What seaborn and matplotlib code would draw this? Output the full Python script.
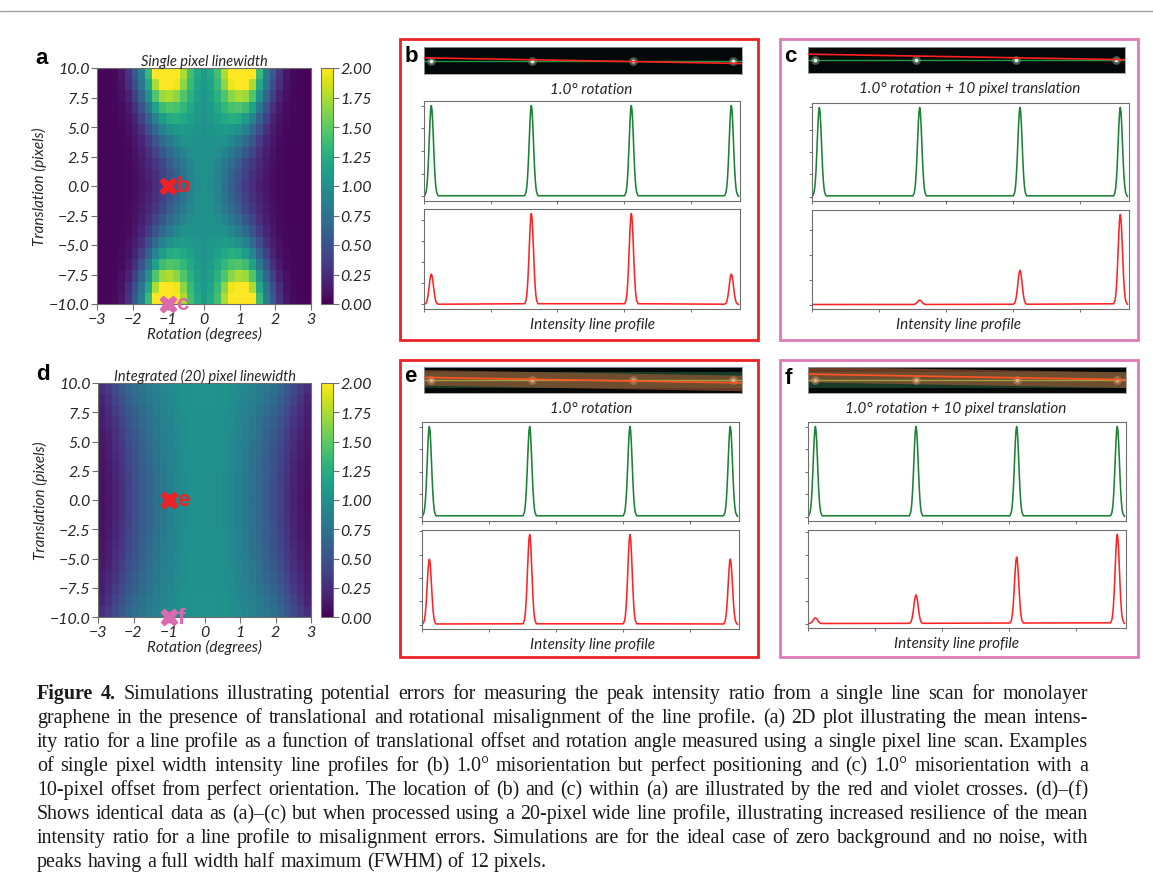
import numpy as np
import pandas as pd
import matplotlib
matplotlib.use("Agg")
import matplotlib.pyplot as plt
from matplotlib.lines import Line2D
from matplotlib.patches import Rectangle
from matplotlib.ticker import MultipleLocator
import seaborn as sns

# ---------------- data ----------------
rotation_deg = [-3.0, -2.8, -2.6, -2.4, -2.2, -2.0, -1.8, -1.6, -1.4, -1.2, -1.0,
                -0.8, -0.6, -0.4, -0.2, 0.0, 0.2, 0.4, 0.6, 0.8, 1.0, 1.2, 1.4,
                1.6, 1.8, 2.0, 2.2, 2.4, 2.6, 2.8, 3.0]
translation_px = [10, 9, 8, 7, 6, 5, 4, 3, 2, 1, 0, -1, -2, -3, -4, -5, -6, -7, -8, -9, -10]

ratio_single = [
    [0.02,0.03,0.05,0.12,0.30,0.55,0.85,1.35,2.00,2.00,2.00,2.00,1.75,1.40,1.20,1.10,1.20,1.40,1.75,2.00,2.00,2.00,2.00,1.35,0.85,0.55,0.30,0.12,0.05,0.03,0.02],
    [0.02,0.03,0.05,0.10,0.25,0.48,0.78,1.20,1.75,2.00,2.00,1.95,1.65,1.35,1.15,1.08,1.15,1.35,1.65,1.95,2.00,2.00,1.75,1.20,0.78,0.48,0.25,0.10,0.05,0.03,0.02],
    [0.02,0.03,0.04,0.08,0.18,0.38,0.65,1.00,1.45,1.70,1.75,1.65,1.45,1.28,1.12,1.05,1.12,1.28,1.45,1.65,1.75,1.70,1.45,1.00,0.65,0.38,0.18,0.08,0.04,0.03,0.02],
    [0.02,0.03,0.04,0.06,0.13,0.28,0.50,0.80,1.15,1.38,1.45,1.42,1.32,1.20,1.10,1.05,1.10,1.20,1.32,1.42,1.45,1.38,1.15,0.80,0.50,0.28,0.13,0.06,0.04,0.03,0.02],
    [0.02,0.02,0.03,0.05,0.10,0.20,0.38,0.62,0.90,1.10,1.22,1.25,1.20,1.13,1.06,1.03,1.06,1.13,1.20,1.25,1.22,1.10,0.90,0.62,0.38,0.20,0.10,0.05,0.03,0.02,0.02],
    [0.02,0.02,0.03,0.04,0.08,0.15,0.28,0.47,0.68,0.88,1.00,1.07,1.10,1.08,1.04,1.02,1.04,1.08,1.10,1.07,1.00,0.88,0.68,0.47,0.28,0.15,0.08,0.04,0.03,0.02,0.02],
    [0.02,0.02,0.03,0.04,0.06,0.12,0.21,0.35,0.52,0.68,0.82,0.93,1.00,1.03,1.02,1.01,1.02,1.03,1.00,0.93,0.82,0.68,0.52,0.35,0.21,0.12,0.06,0.04,0.03,0.02,0.02],
    [0.02,0.02,0.03,0.03,0.05,0.10,0.17,0.27,0.40,0.54,0.68,0.80,0.90,0.97,1.00,1.00,1.00,0.97,0.90,0.80,0.68,0.54,0.40,0.27,0.17,0.10,0.05,0.03,0.03,0.02,0.02],
    [0.02,0.02,0.02,0.03,0.05,0.08,0.14,0.22,0.32,0.44,0.57,0.70,0.82,0.92,0.98,1.00,0.98,0.92,0.82,0.70,0.57,0.44,0.32,0.22,0.14,0.08,0.05,0.03,0.02,0.02,0.02],
    [0.02,0.02,0.02,0.03,0.04,0.07,0.12,0.19,0.27,0.38,0.50,0.63,0.77,0.89,0.97,1.00,0.97,0.89,0.77,0.63,0.50,0.38,0.27,0.19,0.12,0.07,0.04,0.03,0.02,0.02,0.02],
    [0.02,0.02,0.02,0.03,0.04,0.07,0.11,0.17,0.25,0.35,0.47,0.60,0.75,0.88,0.96,1.00,0.96,0.88,0.75,0.60,0.47,0.35,0.25,0.17,0.11,0.07,0.04,0.03,0.02,0.02,0.02],
    [0.02,0.02,0.02,0.03,0.04,0.07,0.12,0.19,0.27,0.38,0.50,0.63,0.77,0.89,0.97,1.00,0.97,0.89,0.77,0.63,0.50,0.38,0.27,0.19,0.12,0.07,0.04,0.03,0.02,0.02,0.02],
    [0.02,0.02,0.02,0.03,0.05,0.08,0.14,0.22,0.32,0.44,0.57,0.70,0.82,0.92,0.98,1.00,0.98,0.92,0.82,0.70,0.57,0.44,0.32,0.22,0.14,0.08,0.05,0.03,0.02,0.02,0.02],
    [0.02,0.02,0.03,0.03,0.05,0.10,0.17,0.27,0.40,0.54,0.68,0.80,0.90,0.97,1.00,1.00,1.00,0.97,0.90,0.80,0.68,0.54,0.40,0.27,0.17,0.10,0.05,0.03,0.03,0.02,0.02],
    [0.02,0.02,0.03,0.04,0.06,0.12,0.21,0.35,0.52,0.68,0.82,0.93,1.00,1.03,1.02,1.01,1.02,1.03,1.00,0.93,0.82,0.68,0.52,0.35,0.21,0.12,0.06,0.04,0.03,0.02,0.02],
    [0.02,0.02,0.03,0.04,0.08,0.15,0.28,0.47,0.68,0.88,1.00,1.07,1.10,1.08,1.04,1.02,1.04,1.08,1.10,1.07,1.00,0.88,0.68,0.47,0.28,0.15,0.08,0.04,0.03,0.02,0.02],
    [0.02,0.02,0.03,0.05,0.10,0.20,0.38,0.62,0.90,1.10,1.22,1.25,1.20,1.13,1.06,1.03,1.06,1.13,1.20,1.25,1.22,1.10,0.90,0.62,0.38,0.20,0.10,0.05,0.03,0.02,0.02],
    [0.02,0.03,0.04,0.06,0.13,0.28,0.50,0.80,1.15,1.38,1.45,1.42,1.32,1.20,1.10,1.05,1.10,1.20,1.32,1.42,1.45,1.38,1.15,0.80,0.50,0.28,0.13,0.06,0.04,0.03,0.02],
    [0.02,0.03,0.04,0.08,0.18,0.38,0.65,1.00,1.45,1.70,1.75,1.65,1.45,1.28,1.12,1.05,1.12,1.28,1.45,1.65,1.75,1.70,1.45,1.00,0.65,0.38,0.18,0.08,0.04,0.03,0.02],
    [0.02,0.03,0.05,0.10,0.25,0.48,0.78,1.20,1.75,2.00,2.00,1.95,1.65,1.35,1.15,1.08,1.15,1.35,1.65,1.95,2.00,2.00,1.75,1.20,0.78,0.48,0.25,0.10,0.05,0.03,0.02],
    [0.02,0.03,0.05,0.12,0.30,0.55,0.85,1.35,2.00,2.00,2.00,2.00,1.75,1.40,1.20,1.10,1.20,1.40,1.75,2.00,2.00,2.00,2.00,1.35,0.85,0.55,0.30,0.12,0.05,0.03,0.02],
]

ratio_integrated = [
    [0.25,0.35,0.45,0.55,0.65,0.72,0.78,0.83,0.88,0.92,0.95,0.98,1.00,1.02,1.03,1.03,1.03,1.02,1.00,0.98,0.95,0.92,0.88,0.83,0.78,0.72,0.65,0.55,0.45,0.35,0.25],
    [0.20,0.30,0.40,0.50,0.60,0.68,0.75,0.80,0.85,0.90,0.94,0.97,1.00,1.02,1.03,1.03,1.03,1.02,1.00,0.97,0.94,0.90,0.85,0.80,0.75,0.68,0.60,0.50,0.40,0.30,0.20],
    [0.17,0.25,0.35,0.45,0.55,0.63,0.70,0.77,0.83,0.88,0.92,0.96,0.99,1.01,1.02,1.02,1.02,1.01,0.99,0.96,0.92,0.88,0.83,0.77,0.70,0.63,0.55,0.45,0.35,0.25,0.17],
    [0.15,0.22,0.31,0.41,0.50,0.59,0.67,0.74,0.80,0.86,0.90,0.95,0.98,1.00,1.02,1.02,1.02,1.00,0.98,0.95,0.90,0.86,0.80,0.74,0.67,0.59,0.50,0.41,0.31,0.22,0.15],
    [0.13,0.19,0.28,0.37,0.47,0.56,0.64,0.72,0.79,0.85,0.90,0.94,0.98,1.00,1.01,1.02,1.01,1.00,0.98,0.94,0.90,0.85,0.79,0.72,0.64,0.56,0.47,0.37,0.28,0.19,0.13],
    [0.12,0.17,0.25,0.34,0.44,0.53,0.62,0.70,0.77,0.84,0.89,0.94,0.97,1.00,1.01,1.01,1.01,1.00,0.97,0.94,0.89,0.84,0.77,0.70,0.62,0.53,0.44,0.34,0.25,0.17,0.12],
    [0.11,0.15,0.23,0.32,0.42,0.51,0.60,0.68,0.76,0.83,0.88,0.93,0.97,0.99,1.00,1.01,1.00,0.99,0.97,0.93,0.88,0.83,0.76,0.68,0.60,0.51,0.42,0.32,0.23,0.15,0.11],
    [0.10,0.14,0.21,0.30,0.40,0.50,0.59,0.67,0.75,0.82,0.88,0.93,0.97,0.99,1.00,1.00,1.00,0.99,0.97,0.93,0.88,0.82,0.75,0.67,0.59,0.50,0.40,0.30,0.21,0.14,0.10],
    [0.10,0.13,0.20,0.29,0.39,0.49,0.58,0.66,0.74,0.81,0.87,0.92,0.96,0.99,1.00,1.00,1.00,0.99,0.96,0.92,0.87,0.81,0.74,0.66,0.58,0.49,0.39,0.29,0.20,0.13,0.10],
    [0.09,0.13,0.19,0.28,0.38,0.48,0.57,0.66,0.74,0.81,0.87,0.92,0.96,0.99,1.00,1.00,1.00,0.99,0.96,0.92,0.87,0.81,0.74,0.66,0.57,0.48,0.38,0.28,0.19,0.13,0.09],
    [0.09,0.12,0.19,0.28,0.38,0.48,0.57,0.65,0.73,0.81,0.87,0.92,0.96,0.99,1.00,1.00,1.00,0.99,0.96,0.92,0.87,0.81,0.73,0.65,0.57,0.48,0.38,0.28,0.19,0.12,0.09],
    [0.09,0.13,0.19,0.28,0.38,0.48,0.57,0.66,0.74,0.81,0.87,0.92,0.96,0.99,1.00,1.00,1.00,0.99,0.96,0.92,0.87,0.81,0.74,0.66,0.57,0.48,0.38,0.28,0.19,0.13,0.09],
    [0.10,0.13,0.20,0.29,0.39,0.49,0.58,0.66,0.74,0.81,0.87,0.92,0.96,0.99,1.00,1.00,1.00,0.99,0.96,0.92,0.87,0.81,0.74,0.66,0.58,0.49,0.39,0.29,0.20,0.13,0.10],
    [0.10,0.14,0.21,0.30,0.40,0.50,0.59,0.67,0.75,0.82,0.88,0.93,0.97,0.99,1.00,1.00,1.00,0.99,0.97,0.93,0.88,0.82,0.75,0.67,0.59,0.50,0.40,0.30,0.21,0.14,0.10],
    [0.11,0.15,0.23,0.32,0.42,0.51,0.60,0.68,0.76,0.83,0.88,0.93,0.97,0.99,1.00,1.01,1.00,0.99,0.97,0.93,0.88,0.83,0.76,0.68,0.60,0.51,0.42,0.32,0.23,0.15,0.11],
    [0.12,0.17,0.25,0.34,0.44,0.53,0.62,0.70,0.77,0.84,0.89,0.94,0.97,1.00,1.01,1.01,1.01,1.00,0.97,0.94,0.89,0.84,0.77,0.70,0.62,0.53,0.44,0.34,0.25,0.17,0.12],
    [0.13,0.19,0.28,0.37,0.47,0.56,0.64,0.72,0.79,0.85,0.90,0.94,0.98,1.00,1.01,1.02,1.01,1.00,0.98,0.94,0.90,0.85,0.79,0.72,0.64,0.56,0.47,0.37,0.28,0.19,0.13],
    [0.15,0.22,0.31,0.41,0.50,0.59,0.67,0.74,0.80,0.86,0.90,0.95,0.98,1.00,1.02,1.02,1.02,1.00,0.98,0.95,0.90,0.86,0.80,0.74,0.67,0.59,0.50,0.41,0.31,0.22,0.15],
    [0.17,0.25,0.35,0.45,0.55,0.63,0.70,0.77,0.83,0.88,0.92,0.96,0.99,1.01,1.02,1.02,1.02,1.01,0.99,0.96,0.92,0.88,0.83,0.77,0.70,0.63,0.55,0.45,0.35,0.25,0.17],
    [0.20,0.30,0.40,0.50,0.60,0.68,0.75,0.80,0.85,0.90,0.94,0.97,1.00,1.02,1.03,1.03,1.03,1.02,1.00,0.97,0.94,0.90,0.85,0.80,0.75,0.68,0.60,0.50,0.40,0.30,0.20],
    [0.25,0.35,0.45,0.55,0.65,0.72,0.78,0.83,0.88,0.92,0.95,0.98,1.00,1.02,1.03,1.03,1.03,1.02,1.00,0.98,0.95,0.92,0.88,0.83,0.78,0.72,0.65,0.55,0.45,0.35,0.25],
]

rot_ticks = [-3, -2, -1, 0, 1, 2, 3]
rot_ticklabels = ["\u22123", "\u22122", "\u22121", "0", "1", "2", "3"]
trans_ticks = [10.0, 7.5, 5.0, 2.5, 0.0, -2.5, -5.0, -7.5, -10.0]
trans_ticklabels = ["10.0", "7.5", "5.0", "2.5", "0.0", "\u22122.5", "\u22125.0", "\u22127.5", "\u221210.0"]
cbar_ticks = [0.0, 0.25, 0.5, 0.75, 1.0, 1.25, 1.5, 1.75, 2.0]
cbar_ticklabels = ["0.00", "0.25", "0.50", "0.75", "1.00", "1.25", "1.50", "1.75", "2.00"]

# crosses marking where the example line scans sit in the maps
cross_rot_trans = {"b": (-1.0, 0.0), "c": (-1.0, -10.0), "e": (-1.0, 0.0), "f": (-1.0, -10.0)}

# line profiles (pixel position along the scan, intensities)
peak_centres = [11, 161, 311, 461]
profile_length = 472
peak_offsets = [-10, -8, -7, -6, -5, -4, -3, -2, -1, 0, 1, 2, 3, 4, 5, 6, 7, 8, 10]
peak_shape = [0.008, 0.044, 0.092, 0.173, 0.296, 0.458, 0.645, 0.823, 0.952, 1.0,
              0.952, 0.823, 0.645, 0.458, 0.296, 0.173, 0.092, 0.044, 0.008]
green_heights = [1.0, 1.0, 1.0, 1.0]
red_heights_b = [0.36, 1.08, 1.08, 0.36]
red_heights_c = [0.0, 0.044, 0.345, 0.91]
red_heights_e = [0.70, 0.965, 0.965, 0.70]
red_heights_f = [0.062, 0.315, 0.73, 0.978]

# thumbnails: line positions (image rows) at left and right ends
thumb_size = (474, 40)
thumb_green_line = [20.0, 20.0]
thumb_red_line_rot = [16.0, 24.5]
thumb_red_line_rot_trans = [11.0, 19.5]
band_half_width = 12

caption_lines = [
    "Simulations illustrating potential errors for measuring the peak intensity ratio from a single line scan for monolayer",
    "graphene in the presence of translational and rotational misalignment of the line profile. (a) 2D plot illustrating the mean intens-",
    "ity ratio for a line profile as a function of translational offset and rotation angle measured using a single pixel line scan. Examples",
    "of single pixel width intensity line profiles for (b) 1.0\u00b0 misorientation but perfect positioning and (c) 1.0\u00b0 misorientation with a",
    "10-pixel offset from perfect orientation. The location of (b) and (c) within (a) are illustrated by the red and violet crosses. (d)\u2013(f)",
    "Shows identical data as (a)\u2013(c) but when processed using a 20-pixel wide line profile, illustrating increased resilience of the mean",
    "intensity ratio for a line profile to misalignment errors. Simulations are for the ideal case of zero background and no noise, with",
    "peaks having a full width half maximum (FWHM) of 12 pixels.",
]

# ---------------- style ----------------
sns.set_theme(style="ticks")
plt.rcParams["font.family"] = ["Lato", "DejaVu Sans"]
plt.rcParams["font.style"] = "italic"
plt.rcParams["font.weight"] = "normal"
plt.rcParams["axes.unicode_minus"] = True

RED = "#ec2226"
PINK = "#e07ab6"
PINK_MARK = "#dc6aae"
GREEN = "#1b8236"
LINE_RED = "#ff2424"
SPINE = "#6e6e6e"
TXT = "#262626"

W, H = 1153, 895
fig = plt.figure(figsize=(W / 100, H / 100), dpi=100)
fig.patch.set_facecolor("white")


def ax_px(x0, y0, x1, y1):
    return fig.add_axes([x0 / W, 1 - y1 / H, (x1 - x0) / W, (y1 - y0) / H])


def ftext(x, y, s, **kw):
    return fig.text(x / W, 1 - y / H, s, **kw)


# ---------------- heatmaps ----------------
def heat(ax, cax, mat, title):
    df = pd.DataFrame(mat, index=translation_px, columns=rotation_deg)
    sns.heatmap(df, ax=ax, cbar_ax=cax, cmap="viridis", vmin=0, vmax=2,
                xticklabels=False, yticklabels=False,
                cbar_kws={"ticks": cbar_ticks})
    ncol, nrow = len(rotation_deg), len(translation_px)
    r0, r1 = rotation_deg[0], rotation_deg[-1]
    t0, t1 = translation_px[0], translation_px[-1]
    xpos = lambda r: (r - r0) / (r1 - r0) * ncol
    ypos = lambda t: (t0 - t) / (t0 - t1) * nrow
    ax.set_xticks([xpos(r) for r in rot_ticks])
    ax.set_xticklabels(rot_ticklabels, rotation=0, fontsize=11.5)
    ax.set_yticks([ypos(t) for t in trans_ticks])
    ax.set_yticklabels(trans_ticklabels, rotation=0, fontsize=11.5)
    for s in ax.spines.values():
        s.set_visible(True)
        s.set_color(SPINE)
        s.set_linewidth(0.8)
    ax.tick_params(length=4, width=0.8, color=SPINE, pad=1.5, labelcolor=TXT)
    ax.set_xlabel("Rotation (degrees)", fontsize=11, labelpad=0, color=TXT)
    ax.set_ylabel("Translation (pixels)", fontsize=11, labelpad=1, color=TXT)
    ax.set_title(title, fontsize=10.5, pad=2, color=TXT)
    cb = ax.collections[0].colorbar
    cb.outline.set_linewidth(0.8)
    cb.outline.set_edgecolor(SPINE)
    cax.set_yticklabels(cbar_ticklabels, fontsize=11.5, color=TXT)
    cax.tick_params(length=4, width=0.8, color=SPINE, pad=1.5)
    return xpos, ypos


def cross(ax, xpos, ypos, key, color):
    r, t = cross_rot_trans[key]
    ax.plot([xpos(r)], [ypos(t)], marker="X", ms=13, color=color, mec="none",
            clip_on=False, zorder=5)
    ax.text(xpos(r) + 1.2, ypos(t), key, color=color, fontsize=16,
            fontweight="bold", fontstyle="normal", family="Liberation Sans",
            va="center", ha="left", clip_on=False, zorder=5)


ax_a = ax_px(97, 69, 311, 305)
cax_a = ax_px(321, 69, 333, 305)
xp, yp = heat(ax_a, cax_a, ratio_single, "Single pixel linewidth")
cross(ax_a, xp, yp, "b", RED)
cross(ax_a, xp, yp, "c", PINK_MARK)

ax_d = ax_px(98, 384, 311, 618)
cax_d = ax_px(321, 384, 333, 618)
xp, yp = heat(ax_d, cax_d, ratio_integrated, "Integrated (20) pixel linewidth")
cross(ax_d, xp, yp, "e", RED)
cross(ax_d, xp, yp, "f", PINK_MARK)


# ---------------- line profiles ----------------
def build_profile(heights):
    xs, ys = [0.0], [0.0]
    for c, h in zip(peak_centres, heights):
        for o, s in zip(peak_offsets, peak_shape):
            x = c + o
            if 0 < x < profile_length:
                xs.append(x)
                ys.append(h * s)
    xs.append(profile_length)
    ys.append(0.0)
    return xs, ys


def profile(ax, heights, color):
    xs, ys = build_profile(heights)
    sns.lineplot(x=xs, y=ys, ax=ax, color=color, lw=1.15, estimator=None, sort=False)
    ax.set_xlim(0, 474)
    ax.xaxis.set_major_locator(MultipleLocator(100))
    ax.yaxis.set_major_locator(MultipleLocator(0.25))
    ax.set_xticklabels([])
    ax.set_yticklabels([])
    ax.set_xlabel("")
    ax.set_ylabel("")
    for s in ax.spines.values():
        s.set_visible(True)
        s.set_color(SPINE)
        s.set_linewidth(0.8)
    ax.tick_params(length=2.5, width=0.7, color=SPINE)


def thumb(ax, red_line, wide):
    ax.set_facecolor("#040808")
    ax.set_xlim(0, thumb_size[0])
    ax.set_ylim(thumb_size[1], 0)
    xe = [0, thumb_size[0]]
    if wide:
        g_lo = [v - band_half_width for v in thumb_green_line]
        g_hi = [v + band_half_width for v in thumb_green_line]
        r_lo = [v - band_half_width for v in red_line]
        r_hi = [v + band_half_width for v in red_line]
        ax.fill_between(xe, g_lo, g_hi, color="#235e40", alpha=0.6, lw=0)
        ax.fill_between(xe, r_lo, r_hi, color="#a55a34", alpha=0.62, lw=0)
        spot_out, spot_in = "#c08a60", "#e0b088"
        gcol, rcol = "#a0a040", "#ff5424"
    else:
        spot_out, spot_in = "#7a9a84", "#e4ece4"
        gcol, rcol = "#1e9a44", "#ff2020"
    ax.plot(xe, thumb_green_line, color=gcol, lw=1.0)
    ax.scatter(peak_centres, [thumb_green_line[0]] * 4, s=40, color=spot_out, alpha=0.55, lw=0, zorder=3)
    ax.scatter(peak_centres, [thumb_green_line[0]] * 4, s=8, color=spot_in, lw=0, zorder=4)
    ax.plot(xe, red_line, color=rcol, lw=1.2, zorder=5)
    ax.set_xticks([])
    ax.set_yticks([])
    for s in ax.spines.values():
        s.set_color("#9a9a9a")
        s.set_linewidth(0.6)


panels = [
    ("b", (400, 40, 758, 341), RED, (424, 48, 742, 75), (424, 102, 740, 202), (424, 210, 740, 310),
     "1.0\u00b0 rotation", 591, 592, red_heights_b, thumb_red_line_rot, False),
    ("c", (780, 40, 1138, 341), PINK, (808, 48, 1125, 74), (812, 104, 1129, 202), (812, 211, 1129, 310),
     "1.0\u00b0 rotation + 10 pixel translation", 970, 958, red_heights_c, thumb_red_line_rot_trans, False),
    ("e", (400, 361, 758, 658), RED, (424, 368, 742, 394), (422, 423, 739, 522), (422, 531, 739, 630),
     "1.0\u00b0 rotation", 591, 592, red_heights_e, thumb_red_line_rot, True),
    ("f", (780, 361, 1138, 658), PINK, (808, 368, 1126, 394), (808, 423, 1126, 522), (808, 531, 1126, 629),
     "1.0\u00b0 rotation + 10 pixel translation", 956, 957, red_heights_f, thumb_red_line_rot_trans, True),
]

for key, box, bcol, tr, gr, rr, title, tx, lx, rh, rl, wide in panels:
    x0, y0, x1, y1 = box
    fig.patches.append(Rectangle((x0 / W, 1 - y1 / H), (x1 - x0) / W, (y1 - y0) / H,
                                 transform=fig.transFigure, fill=False, ec=bcol, lw=2.0))
    thumb(ax_px(*tr), rl, wide)
    profile(ax_px(*gr), green_heights, GREEN)
    profile(ax_px(*rr), rh, LINE_RED)
    ftext(tx, tr[3] + 15, title, fontsize=11, ha="center", va="center", color=TXT)
    ftext(lx, rr[3] + 15, "Intensity line profile", fontsize=11, ha="center", va="center", color=TXT)

# panel letters
for letter, (lx, ly) in {"a": (42, 58), "d": (43, 375), "b": (411, 57), "c": (790, 57),
                         "e": (410, 377), "f": (788, 378)}.items():
    ftext(lx, ly, letter, fontsize=16, fontweight="bold", fontstyle="normal",
          family="Liberation Sans", ha="center", va="center", color="black")

# top rule
fig.add_artist(Line2D([0, 1], [1 - 12 / H, 1 - 12 / H], transform=fig.transFigure,
                      color="#a0a0a0", lw=1.0))

# ---------------- caption (justified) ----------------
renderer = fig.canvas.get_renderer()
cap_x0, cap_x1 = 37, 1088
cap_size = 12.5
rows = []
for i, line in enumerate(caption_lines):
    toks = [(w, False) for w in line.split(" ")]
    if i == 0:
        toks = [("Figure", True), ("4.", True)] + toks
    objs = [ftext(cap_x0, 699 + 24 * i, w, fontsize=cap_size, family="Liberation Serif",
                  fontstyle="normal", fontweight="bold" if b else "normal",
                  va="baseline", ha="left", color="#1a1a1a") for w, b in toks]
    rows.append(objs)


def widths(objs):
    return [o.get_window_extent(renderer).width for o in objs]


space_em = 0.25
space = cap_size * 100 / 72 * space_em
natural = max(sum(widths(o)) + space * (len(o) - 1) for o in rows[:-1])
cap_size = cap_size * (cap_x1 - cap_x0) / natural * 0.99
space = cap_size * 100 / 72 * space_em
for objs in rows:
    for o in objs:
        o.set_fontsize(cap_size)

for i, objs in enumerate(rows):
    ws = widths(objs)
    if i < len(rows) - 1:
        gap = (cap_x1 - cap_x0 - sum(ws)) / (len(objs) - 1)
    else:
        gap = space
    x = cap_x0
    for o, w in zip(objs, ws):
        o.set_x(x / W)
        x += w + gap

fig.savefig("out.png", dpi=100)
